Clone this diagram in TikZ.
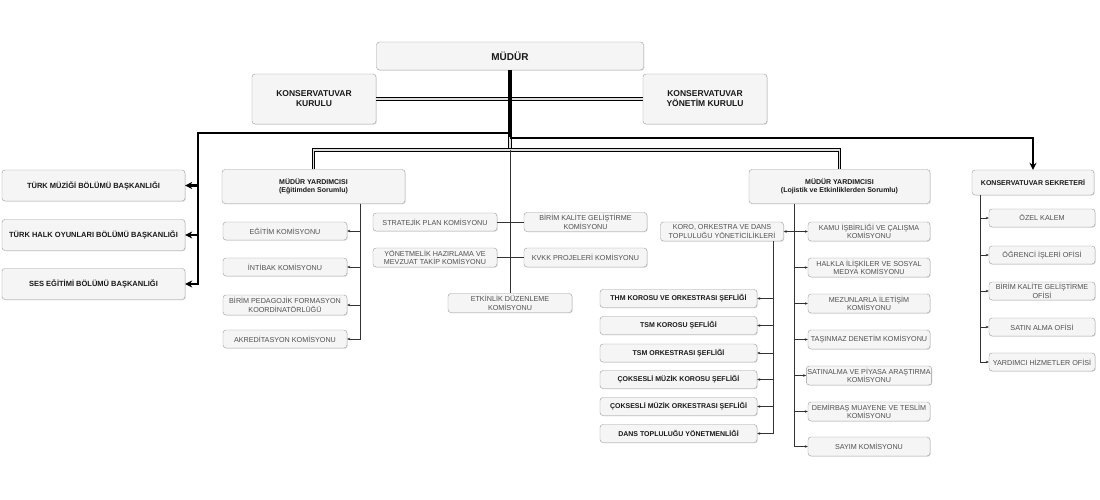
\documentclass[tikz,border=0pt]{standalone}
\usepackage{fontspec}
\setmainfont{Liberation Sans}
\usetikzlibrary{arrows.meta,shadows,calc}
\definecolor{boxfill}{HTML}{F5F5F5}
\definecolor{boxline}{HTML}{9A9A9A}
\definecolor{txtgray}{HTML}{505050}
\definecolor{linegray}{HTML}{333333}
\begin{document}
\begin{tikzpicture}[x=1pt,y=-1pt,
  box/.style={draw=boxline, fill=boxfill, rounded corners=3pt, inner sep=1pt, align=center,
    text=txtgray, font=\fontsize{7.2}{8.2}\selectfont,
    drop shadow={shadow xshift=0.8pt, shadow yshift=-0.8pt, opacity=0.22}},
  bbox/.style={box, text=black!90, font=\fontsize{7}{8.4}\selectfont\bfseries},
  sz/.style 2 args={minimum width=#1, minimum height=#2},
  thickline/.style={draw=black, line width=2.3pt},
  dbl/.style={draw=black, line width=1.1pt, double=gray!25, double distance=1.2pt},
  thinline/.style={draw=linegray, line width=0.5pt},
  bigarrow/.style={-{Stealth[length=7pt,width=7pt]}},
  smallarrow/.style={-{Stealth[length=3pt,width=2.6pt]}},
]
\useasboundingbox (0,0) rectangle (1100,500);

% top level
\node[bbox, sz={267pt}{28pt}, font=\fontsize{10}{12}\selectfont\bfseries] (mudur) at (510,56) {MÜDÜR};
\node[bbox, sz={124pt}{50pt}, font=\fontsize{8.5}{10}\selectfont\bfseries] (kk) at (314,99) {KONSERVATUVAR\\KURULU};
\node[bbox, sz={124pt}{50pt}, font=\fontsize{8.5}{10}\selectfont\bfseries] (kyk) at (705,99) {KONSERVATUVAR\\YÖNETİM KURULU};

% departments
\node[bbox, sz={183pt}{31pt}, font=\fontsize{7.5}{9}\selectfont\bfseries] (tm) at (93.5,185.5) {TÜRK MÜZİĞİ BÖLÜMÜ BAŞKANLIĞI};
\node[bbox, sz={183pt}{31pt}, font=\fontsize{7.5}{9}\selectfont\bfseries] (tho) at (93.5,235) {TÜRK HALK OYUNLARI BÖLÜMÜ BAŞKANLIĞI};
\node[bbox, sz={183pt}{31pt}, font=\fontsize{7.5}{9}\selectfont\bfseries] (ses) at (93.5,284) {SES EĞİTİMİ BÖLÜMÜ BAŞKANLIĞI};

% deputy 1
\node[bbox, sz={183pt}{34pt}] (my1) at (313.5,186.5) {MÜDÜR YARDIMCISI\\(Eğitimden Sorumlu)};
\node[box, sz={124pt}{18pt}] (egitim) at (285,231) {EĞİTİM KOMİSYONU};
\node[box, sz={124pt}{18pt}] (intibak) at (285,267) {İNTİBAK KOMİSYONU};
\node[box, sz={124pt}{20pt}] (pedag) at (285,305) {BİRİM PEDAGOJİK FORMASYON\\KOORDİNATÖRLÜĞÜ};
\node[box, sz={124pt}{18pt}] (akred) at (285,339) {AKREDİTASYON KOMİSYONU};

% middle committees
\node[box, sz={124pt}{18pt}] (strat) at (435,222) {STRATEJİK PLAN KOMİSYONU};
\node[box, sz={123pt}{19pt}] (birimk) at (585.5,222) {BİRİM KALİTE GELİŞTİRME\\KOMİSYONU};
\node[box, sz={124pt}{19pt}] (yonet) at (435,257.5) {YÖNETMELİK HAZIRLAMA VE\\MEVZUAT TAKİP KOMİSYONU};
\node[box, sz={123pt}{19pt}] (kvkk) at (585.5,257.5) {KVKK PROJELERİ KOMİSYONU};
\node[box, sz={124pt}{19pt}] (etk) at (510,303) {ETKİNLİK DÜZENLEME\\KOMİSYONU};

% deputy 2
\node[bbox, sz={181pt}{34pt}] (my2) at (839.5,186.5) {MÜDÜR YARDIMCISI\\(Lojistik ve Etkinliklerden Sorumlu)};
\node[box, sz={123pt}{19pt}] (koro) at (722,231.5) {KORO, ORKESTRA VE DANS\\TOPLULUĞU YÖNETİCİLİKLERİ};
\node[box, sz={122pt}{19pt}] (kamu) at (869,231.5) {KAMU İŞBİRLİĞİ VE ÇALIŞMA\\KOMİSYONU};
\node[box, sz={122pt}{19pt}] (halk) at (869,267.5) {HALKLA İLİŞKİLER VE SOSYAL\\MEDYA KOMİSYONU};
\node[box, sz={122pt}{19pt}] (mezun) at (869,303.5) {MEZUNLARLA İLETİŞİM\\KOMİSYONU};
\node[box, sz={122pt}{19pt}] (tasin) at (869,339.5) {TAŞINMAZ DENETİM KOMİSYONU};
\node[box, sz={122pt}{19pt}] (satin) at (869,375.5) {SATINALMA VE PİYASA ARAŞTIRMA\\KOMİSYONU};
\node[box, sz={122pt}{19pt}] (demir) at (869,411.5) {DEMİRBAŞ MUAYENE VE TESLİM\\KOMİSYONU};
\node[box, sz={122pt}{19pt}] (sayim) at (869,446.5) {SAYIM KOMİSYONU};

\node[bbox, sz={157pt}{18pt}] (thm) at (678.5,298.5) {THM KOROSU VE ORKESTRASI ŞEFLİĞİ};
\node[bbox, sz={157pt}{18pt}] (tsmk) at (678.5,325.5) {TSM KOROSU ŞEFLİĞİ};
\node[bbox, sz={157pt}{18pt}] (tsmo) at (678.5,353) {TSM ORKESTRASI ŞEFLİĞİ};
\node[bbox, sz={157pt}{18pt}] (cmk) at (678.5,379.5) {ÇOKSESLİ MÜZİK KOROSU ŞEFLİĞİ};
\node[bbox, sz={157pt}{18pt}] (cmo) at (678.5,406.5) {ÇOKSESLİ MÜZİK ORKESTRASI ŞEFLİĞİ};
\node[bbox, sz={157pt}{18pt}] (dans) at (678.5,433.5) {DANS TOPLULUĞU YÖNETMENLİĞİ};

% secretary
\node[bbox, sz={122pt}{25pt}] (sek) at (1033,182.5) {KONSERVATUVAR SEKRETERİ};
\node[box, sz={106pt}{18pt}] (ozel) at (1042,218) {ÖZEL KALEM};
\node[box, sz={106pt}{18pt}] (ogr) at (1042,255) {ÖĞRENCİ İŞLERİ OFİSİ};
\node[box, sz={106pt}{18pt}] (bko) at (1042,291) {BİRİM KALİTE GELİŞTİRME\\OFİSİ};
\node[box, sz={106pt}{18pt}] (sato) at (1042,327) {SATIN ALMA OFİSİ};
\node[box, sz={106pt}{18pt}] (yar) at (1042,362) {YARDIMCI HİZMETLER OFİSİ};

% junction coordinates
\coordinate (j1) at (510,133);
\coordinate (j2) at (510,138);
\coordinate (j0) at (510,137);
\coordinate (j3) at (510,150);
\coordinate (lc) at (198,133);
\coordinate (v1) at ([xshift=46.5pt]my1.south);
\coordinate (v2) at ([xshift=-45.5pt]my2.south);
\coordinate (v3) at ([xshift=51pt]koro.south);
\coordinate (v4) at ([xshift=-53pt]sek.south);

% connectors
\draw[dbl] (kk.east) -- (kyk.west);
\draw[dbl] (j0) -- (j3);
\draw[thickline, line width=3.6pt] (mudur.south) -- (j0);
\draw[thickline, bigarrow] (j1) -| (lc |- ses.east) -- (ses.east);
\draw[thickline, bigarrow] (lc |- tm.east) -- (tm.east);
\draw[thickline, bigarrow] (lc |- tho.east) -- (tho.east);
\draw[draw=black, line width=1.6pt, bigarrow] (j2) -| (sek.north);
\draw[dbl] (my1.north) |- (j3) -| (my2.north);
\draw[thinline] (j3) -- (etk.north);
\draw[thinline] (strat.east) -- (birimk.west);
\draw[thinline] (yonet.east) -- (kvkk.west);

\draw[thinline, smallarrow] (v1) |- (akred.east);
\draw[thinline, smallarrow] (v1 |- egitim.east) -- (egitim.east);
\draw[thinline, smallarrow] (v1 |- intibak.east) -- (intibak.east);
\draw[thinline, smallarrow] (v1 |- pedag.east) -- (pedag.east);

\draw[thinline, smallarrow] (v2) |- (sayim.west);
\draw[thinline, {Stealth[length=3pt,width=2.6pt]}-{Stealth[length=3pt,width=2.6pt]}] (koro.east) -- (kamu.west);
\draw[thinline, smallarrow] (v2 |- halk.west) -- (halk.west);
\draw[thinline, smallarrow] (v2 |- mezun.west) -- (mezun.west);
\draw[thinline, smallarrow] (v2 |- tasin.west) -- (tasin.west);
\draw[thinline, smallarrow] (v2 |- satin.west) -- (satin.west);
\draw[thinline, smallarrow] (v2 |- demir.west) -- (demir.west);

\draw[thinline, smallarrow] (v3) |- (dans.east);
\draw[thinline, smallarrow] (v3 |- thm.east) -- (thm.east);
\draw[thinline, smallarrow] (v3 |- tsmk.east) -- (tsmk.east);
\draw[thinline, smallarrow] (v3 |- tsmo.east) -- (tsmo.east);
\draw[thinline, smallarrow] (v3 |- cmk.east) -- (cmk.east);
\draw[thinline, smallarrow] (v3 |- cmo.east) -- (cmo.east);

\draw[thinline, smallarrow] (v4) |- (yar.west);
\draw[thinline, smallarrow] (v4 |- ozel.west) -- (ozel.west);
\draw[thinline, smallarrow] (v4 |- ogr.west) -- (ogr.west);
\draw[thinline, smallarrow] (v4 |- bko.west) -- (bko.west);
\draw[thinline, smallarrow] (v4 |- sato.west) -- (sato.west);
\end{tikzpicture}
\end{document}
